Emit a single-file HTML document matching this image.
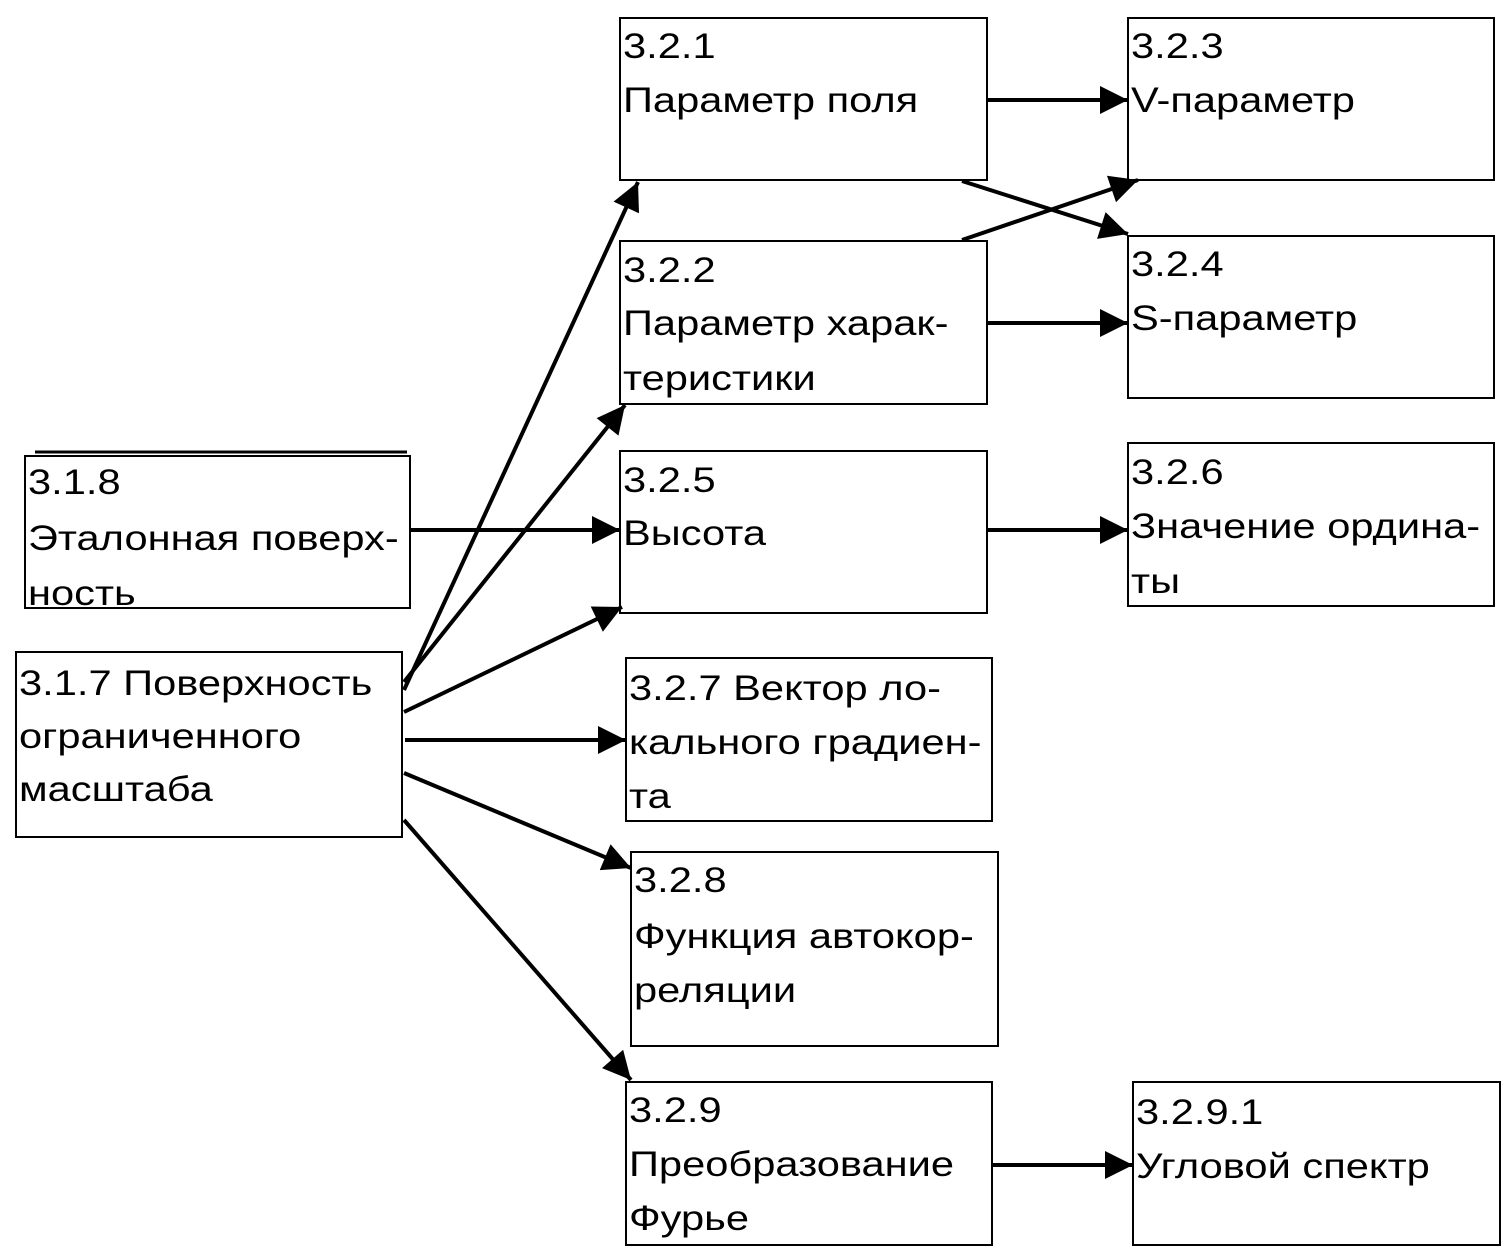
<!DOCTYPE html>
<html><head><meta charset="utf-8"><style>
html,body{margin:0;padding:0;background:#fff;}
svg{display:block;}
text{font-family:"Liberation Sans",Arial,sans-serif;font-size:35px;fill:#000;}
</style></head><body>
<svg width="1511" height="1257" viewBox="0 0 1511 1257" xmlns="http://www.w3.org/2000/svg">
<defs>
<marker id="a" viewBox="0 0 10 10" refX="10" refY="5" markerWidth="9" markerHeight="7" markerUnits="strokeWidth" orient="auto">
<path d="M0,0 L10,5 L0,10 z" fill="#000"/>
</marker>
</defs>
<g fill="none" stroke="#000" stroke-width="2">
<rect x="620" y="18" width="367" height="162"/>
<rect x="1128" y="18" width="366" height="162"/>
<rect x="620" y="241" width="367" height="163"/>
<rect x="1128" y="236" width="366" height="162"/>
<rect x="25" y="456" width="385" height="152"/>
<rect x="620" y="451" width="367" height="162"/>
<rect x="1128" y="443" width="366" height="163"/>
<rect x="16" y="652" width="386" height="185"/>
<rect x="626" y="658" width="366" height="163"/>
<rect x="631" y="852" width="367" height="194"/>
<rect x="626" y="1082" width="366" height="163"/>
<rect x="1133" y="1082" width="367" height="163"/>
</g>
<line x1="35" y1="452" x2="407" y2="452" stroke="#000" stroke-width="3"/>
<g stroke="#000" stroke-width="4" marker-end="url(#a)">
<line x1="987" y1="100" x2="1128" y2="100"/>
<line x1="962" y1="181" x2="1128" y2="234"/>
<line x1="962" y1="240" x2="1138" y2="180"/>
<line x1="987" y1="323" x2="1128" y2="323"/>
<line x1="410" y1="530" x2="620" y2="530"/>
<line x1="987" y1="530" x2="1128" y2="530"/>
<line x1="404" y1="690" x2="638" y2="182"/>
<line x1="404" y1="682" x2="625" y2="405"/>
<line x1="404" y1="712" x2="622" y2="607"/>
<line x1="405" y1="740" x2="626" y2="740"/>
<line x1="404" y1="773" x2="631" y2="868"/>
<line x1="404" y1="820" x2="631" y2="1080"/>
<line x1="992" y1="1165" x2="1133" y2="1165"/>
</g>
<g transform="translate(623,0) scale(1.19,1)"><text x="0" y="58">3.2.1</text><text x="0" y="112">Параметр поля</text></g>
<g transform="translate(1131,0) scale(1.19,1)"><text x="0" y="58">3.2.3</text><text x="0" y="112">V-параметр</text></g>
<g transform="translate(623,0) scale(1.19,1)"><text x="0" y="282">3.2.2</text><text x="0" y="335">Параметр харак-</text><text x="0" y="390">теристики</text></g>
<g transform="translate(1131,0) scale(1.19,1)"><text x="0" y="276">3.2.4</text><text x="0" y="330">S-параметр</text></g>
<g transform="translate(28,0) scale(1.19,1)"><text x="0" y="494">3.1.8</text><text x="0" y="550">Эталонная поверх-</text><text x="0" y="605">ность</text></g>
<g transform="translate(623,0) scale(1.19,1)"><text x="0" y="492">3.2.5</text><text x="0" y="545">Высота</text></g>
<g transform="translate(1131,0) scale(1.19,1)"><text x="0" y="484">3.2.6</text><text x="0" y="538">Значение ордина-</text><text x="0" y="593">ты</text></g>
<g transform="translate(19,0) scale(1.19,1)"><text x="0" y="695">3.1.7 Поверхность</text><text x="0" y="748">ограниченного</text><text x="0" y="801">масштаба</text></g>
<g transform="translate(629,0) scale(1.19,1)"><text x="0" y="700">3.2.7 Вектор ло-</text><text x="0" y="754">кального градиен-</text><text x="0" y="808">та</text></g>
<g transform="translate(634,0) scale(1.19,1)"><text x="0" y="892">3.2.8</text><text x="0" y="948">Функция автокор-</text><text x="0" y="1002">реляции</text></g>
<g transform="translate(629,0) scale(1.19,1)"><text x="0" y="1122">3.2.9</text><text x="0" y="1176">Преобразование</text><text x="0" y="1230">Фурье</text></g>
<g transform="translate(1136,0) scale(1.19,1)"><text x="0" y="1124">3.2.9.1</text><text x="0" y="1178">Угловой спектр</text></g>
</svg>
</body></html>
